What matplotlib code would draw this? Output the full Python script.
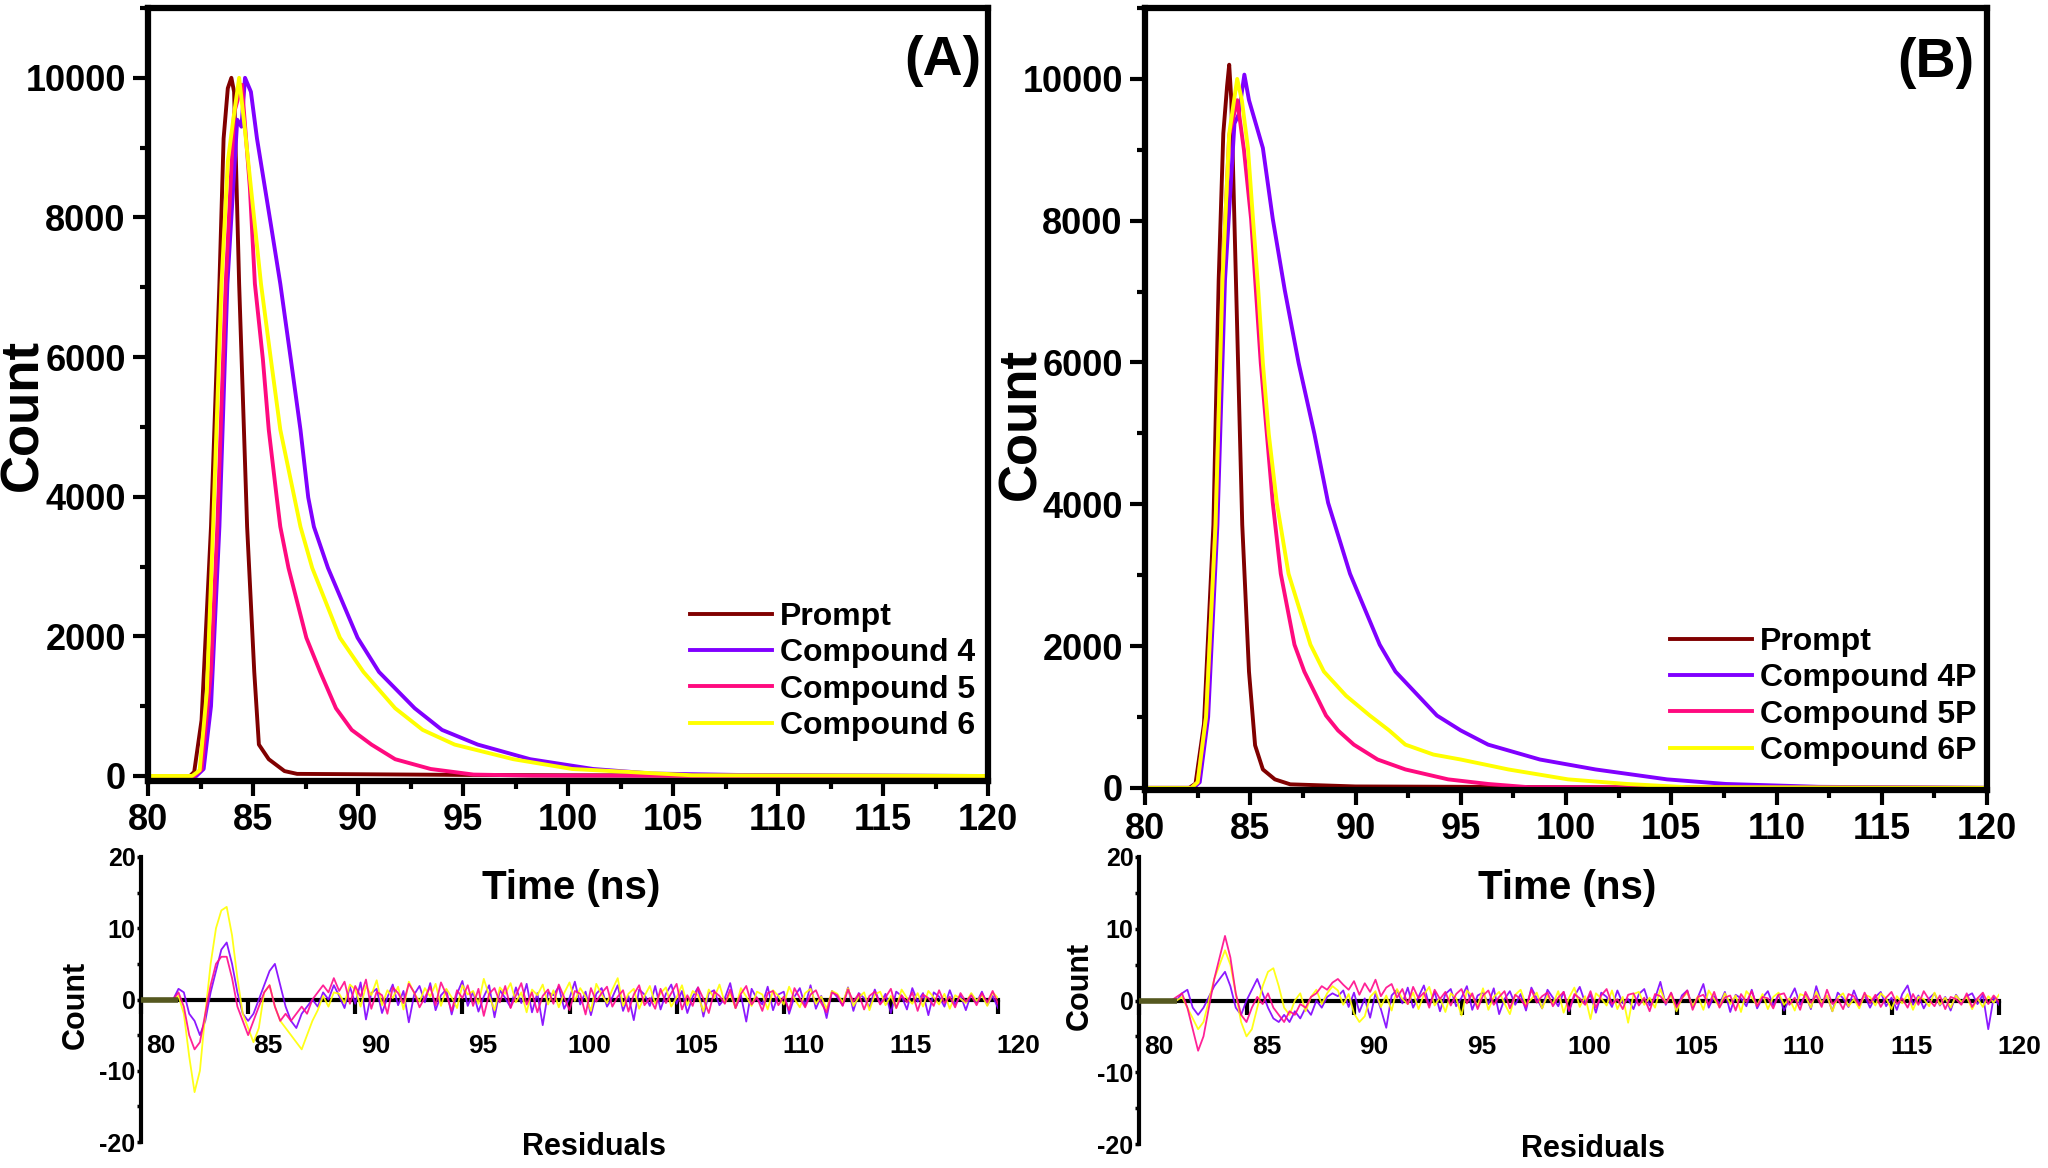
import matplotlib
matplotlib.use("Agg")
import matplotlib.pyplot as plt
import matplotlib.transforms as mtransforms
from matplotlib.ticker import MultipleLocator
import numpy as np

plt.rcParams['font.family'] = ['Liberation Sans', 'DejaVu Sans']
plt.rcParams['font.weight'] = 'bold'
plt.rcParams['axes.unicode_minus'] = False

# ---- decay curves, panel A (time in ns, counts) ----
prompt_a_t = [80, 82.0, 82.2, 82.55, 83.0, 83.4, 83.6, 83.8, 83.97, 84.1, 84.34, 84.72,
              85.06, 85.28, 85.75, 86.5, 87.1, 90, 95, 100, 110, 120]
prompt_a_c = [0, 0, 60, 800, 3570, 7050, 9130, 9850, 10000, 9800, 7050, 3570,
              1490, 450, 240, 70, 30, 25, 15, 10, 5, 0]
c4_a_t = [80, 82.3, 82.65, 83.0, 83.4, 83.78, 84.25, 84.45, 84.62, 84.9, 85.19, 85.85, 86.3,
          86.8, 87.26, 87.63, 87.9, 88.57, 89.98, 91.0, 92.7, 94.0, 95.7, 98.2, 101.2, 104, 108,
          113, 120]
c4_a_c = [0, 0, 100, 1000, 3570, 7050, 9400, 9300, 10000, 9800, 9130, 7900, 7050,
          5970, 4960, 3990, 3570, 2980, 1980, 1490, 970, 660, 450, 240, 100, 35, 15,
          5, 0]
c5_a_t = [80, 82.2, 82.55, 83.0, 83.3, 83.7, 84.1, 84.47, 84.85, 85.09, 85.47, 85.75, 86.13,
          86.3, 86.69, 87.54, 88.2, 88.95, 89.7, 90.64, 91.77, 93.46, 95.5, 98.3, 120]
c5_a_c = [0, 0, 100, 1500, 3570, 7050, 9500, 9900, 8430, 7050, 5970, 4960, 3990,
          3570, 2980, 1980, 1490, 970, 660, 450, 240, 100, 20, 5, 0]
c6_a_t = [80, 82.1, 82.46, 82.8, 83.1, 83.5, 83.8, 84.06, 84.34, 84.6, 84.9, 85.38, 85.85,
          86.3, 86.97, 87.26, 87.82, 89.14, 90.26, 91.77, 93.08, 94.6, 97.4, 100.2, 105.9, 120]
c6_a_c = [0, 0, 80, 1200, 3570, 7050, 8800, 9400, 10000, 9300, 8430, 7050, 5970,
          4960, 3990, 3570, 2980, 1980, 1490, 970, 660, 450, 240, 100, 10, 0]

# ---- decay curves, panel B ----
prompt_b_t = [80, 82.1, 82.4, 82.8, 83.25, 83.5, 83.72, 83.9, 84.0, 84.1, 84.32, 84.62,
              84.94, 85.23, 85.6, 86.17, 86.9, 90, 100, 120]
prompt_b_c = [0, 0, 60, 900, 3710, 7160, 9230, 9900, 10200, 9700, 7160, 3710,
              1640, 600, 260, 120, 50, 20, 10, 0]
c4_b_t = [80, 82.3, 82.6, 83.0, 83.44, 83.8, 84.25, 84.45, 84.72, 84.94, 85.6, 86.07, 86.64,
          87.3, 88.05, 88.7, 89.74, 91.15, 91.9, 93.87, 95.0, 96.3, 98.76, 101.4, 104.8, 107.6,
          112, 120]
c4_b_c = [0, 0, 80, 1000, 3710, 7160, 9370, 9500, 10060, 9700, 9025, 8025, 7020,
          5990, 4990, 4020, 3020, 2020, 1640, 1020, 810, 610, 400, 260, 120, 55,
          15, 0]
c5_b_t = [80, 82.2, 82.5, 82.9, 83.35, 83.68, 84.0, 84.38, 84.7, 85.04, 85.5, 86.07, 86.45,
          87.1, 87.57, 88.6, 89.17, 89.92, 91.05, 92.37, 94.4, 96.3, 98.2, 120]
c5_b_c = [0, 0, 80, 1000, 3710, 7160, 9200, 9700, 9000, 8025, 5990, 4020, 3020,
          2020, 1640, 1020, 810, 610, 400, 260, 120, 55, 10, 0]
c6_b_t = [80, 82.2, 82.5, 82.9, 83.35, 83.68, 84.0, 84.38, 84.6, 84.89, 85.13, 85.38, 85.6,
          85.88, 86.26, 86.82, 87.86, 88.5, 89.55, 90.68, 91.6, 92.37, 93.7, 95.0, 97.26,
          100.1, 102.9, 105.7, 120]
c6_b_c = [0, 0, 80, 1000, 3710, 7160, 9230, 10000, 9700, 9025, 8025, 7020, 5990,
          4990, 4020, 3020, 2020, 1640, 1300, 1020, 810, 610, 470, 400, 260,
          120, 55, 10, 0]

labels_a = ['Prompt', 'Compound 4', 'Compound 5', 'Compound 6']
labels_b = ['Prompt', 'Compound 4P', 'Compound 5P', 'Compound 6P']
colors = ['#800000', '#8000FF', '#FF0A7F', '#FFFF00']

# ---- residuals: sampled every 0.25 ns starting at 81.0 ns ----
RES_T0 = 81.0
RES_DT = 0.25
RES_LEAD = 81.75

res_a4 = [0, 0, 0, 1.5, 1, -2, -3, -5, -3, 1, 4, 7, 8, 5, 1, -2, -3, -2, 0, 2, 4, 5, 2, -1,
          -3, -4, -2, -1, 0, -1, 1, 0, 2,
          0.5, -1.2, 1.8, -0.6, 2.4, -2.8, 0.9, 1.5, -1.9, 0.3, 2.1, -0.8, 1.2, -3.2, 0.7, 1.9, -0.4, 2.3, -1.5, 0.6,
          1.4, -2.1, 0.8, 2.6, -0.9, 1.1, -1.7, 0.4, 2.0, -2.5, 1.3, 0.2, -1.1, 1.7, -0.5, 2.2, -1.8, 0.9, -3.6, 1.0,
          0.6, 1.8, -1.3, 0.2, 2.5, -0.7, 1.1, -2.2, 0.8, 1.6, -1.0, 0.3, 2.0, -1.6, 0.5, -2.9, 1.4, 0.7, -0.9, 1.9,
          -1.4, 0.8, 2.1, -0.6, 1.2, -1.9, 0.4, 1.7, -2.4, 0.9, 1.3, -0.8, 0.2, 2.3, -1.2, 0.6, -3.1, 1.5, 0.1, -0.7,
          1.8, -1.5, 0.7, 1.1, -2.0, 0.4, 1.6, -0.9, 2.0, -1.3, 0.5, -2.6, 1.2, 0.3, -0.8, 1.7, -1.6, 0.9, 0.2, -1.1,
          1.4, -0.6, 0.8, -1.9, 1.1, 0.5, -1.4, 1.6, -0.3, 0.9, -2.2, 1.0, 0.4, -1.0, 1.3, -0.7, 0.6, -1.5, 0.8, -0.4,
          1.1, -0.8, 0.5, -1.2]
res_a5 = [0, 0, 0, 1, -1, -5, -7, -6, -2, 2, 5, 6, 6, 3, -1, -3, -5, -3, -1, 1, 2, -1, -3, -2,
          -3, -2, -1, -2, 0, 1, 2, 1, 3,
          1.2, 2.5, -0.6, 1.9, 0.4, 2.8, -1.3, 1.1, 0.6, -2.0, 1.7, 0.9, -0.5, 2.2, 1.0, -1.1, 0.3, 1.8, -0.8, 2.4,
          0.7, -1.6, 1.3, 0.2, 2.0, -0.9, 1.5, -2.3, 0.8, 1.6, -0.4, 1.9, -1.2, 0.6, 2.3, -0.7, 1.0, -1.8, 0.5, 1.4,
          -0.6, 2.1, 0.3, -1.5, 1.2, 0.8, -2.1, 1.6, -0.3, 0.9, 1.8, -1.0, 0.4, 1.3, -1.7, 0.7, 2.0, -0.8, 0.2, -1.3,
          1.5, -0.5, 0.9, 2.2, -1.4, 0.6, -0.9, 1.7, 0.1, -1.9, 1.1, 0.5, -0.6, 1.4, -1.2, 0.8, 1.9, -0.7, 0.3, -1.6,
          0.9, 1.2, -0.8, 0.4, -1.5, 1.6, 0.2, -1.1, 0.7, 1.3, -0.5, -1.8, 1.0, 0.6, -0.9, 1.4, -0.3, 0.8, -1.4, 0.5,
          1.1, -0.7, 0.3, 1.5, -1.2, 0.6, -0.4, 1.0, -1.6, 0.7, 0.2, -0.9, 1.3, -0.5, 0.4, -1.1, 0.9, -0.3, 0.6, -0.8,
          0.9, -0.4, 1.2, -0.6]
res_a6 = [0, 0, 0, 0.5, -2, -8, -13, -10, -2, 5, 10, 12.5, 13, 9, 3, -2, -4, -6, -4, 1, 2, -1,
          -3, -4, -5, -6, -7, -5, -3, -1.5, 0.5, -1, 1,
          0.8, -0.5, 2.1, 1.4, -1.0, 1.9, 0.6, 2.7, -0.8, 1.3, 0.2, 1.8, -1.4, 2.5, 0.9, -0.3, 1.6, 0.4, 2.2, -0.9,
          1.5, 0.3, -1.2, 2.0, 0.7, 1.2, -0.6, 2.9, 0.5, -1.5, 1.7, 0.8, 2.3, -0.4, 1.0, -1.8, 1.4, 0.6, 2.1, -0.7,
          1.3, -1.1, 0.9, 2.4, -0.2, 1.6, 0.4, -1.6, 2.2, 0.7, -0.5, 1.4, 3.0, -0.9, 0.8, 1.5, -1.3, 0.5, 1.9, -0.6,
          0.9, 1.7, -1.0, 0.3, 2.0, -0.8, 1.2, 0.6, -1.7, 1.4, 0.2, 2.1, -0.5, 0.8, -1.2, 1.6, 0.4, -0.9, 1.1, 0.7,
          -1.4, 1.3, 0.5, -0.7, 1.8, 0.1, -1.1, 0.9, 1.5, -0.6, 0.4, -1.3, 1.2, 0.8, -0.4, 1.6, -0.9, 0.3, 1.0, -1.5,
          0.7, 1.1, -0.8, 0.5, -1.2, 1.4, 0.2, -0.6, 0.9, -1.0, 1.2, 0.3, -0.7, 0.8, -1.3, 0.6, 0.1, -0.5, 0.9, -0.2,
          0.6, -0.9, 1.0, 0.2]

res_b4 = [0, 0, 0, 0, 1, 1.5, -1, -2, -1, 0.5, 2, 3, 4, 2, -1, -2, 0, 1.5, 3, 1, -1, -2.5,
          -3, -2, -3, -1.5, -2.5, -1, -2, 0, -1, 0.5, 1,
          0.6, 1.4, -0.9, 1.1, -1.6, 0.3, -2.4, 1.0, -1.2, -3.8, 0.7, 1.5, -0.4, 1.8, -1.0, 0.5, 2.1, -0.7, 1.2, -1.5,
          0.9, 1.6, -0.8, 0.4, 2.0, -1.3, 0.7, 1.1, -0.5, 1.7, -1.9, 0.2, 1.3, -0.6, 0.9, -1.4, 1.8, 0.3, -1.1, 1.5,
          0.4, -0.8, 1.2, -1.5, 0.6, 1.9, -0.3, 0.8, -1.7, 1.1, 0.5, -0.9, 1.4, -0.4, 0.2, -1.2, 0.9, 1.6, -0.7, 0.3,
          2.6, -0.6, 1.0, -1.3, 0.7, 1.4, -0.9, 0.5, 2.3, -1.0, 0.6, -0.5, 1.2, -1.6, 0.8, 0.3, -0.8, 1.5, -1.1, 0.4,
          1.3, -0.7, 0.9, -1.4, 0.2, 1.7, -0.6, 0.8, -1.2, 2.0, -0.4, 0.6, -1.5, 1.1, 0.3, -0.9, 1.4, -0.5, 0.7, -1.0,
          0.5, 1.2, -0.8, 0.4, -1.3, 0.9, 2.1, -0.6, 0.7, -1.1, 0.3, 1.0, -0.7, 0.5, -1.4, 0.8, -0.3, 0.6, 1.0, -0.5,
          0.8, -4.0, 0.4, -0.6]
res_b5 = [0, 0, 0, 0.5, 1, -1, -4, -7, -5, -1, 3, 6, 9, 6, 1, -2, -3, -1, 0.5, -0.5, 1, -1,
          -2, -3, -1.5, -2, -0.5, -1, 0.5, 1, 2, 1.5, 2.5,
          3.0, 2.2, 1.5, 2.7, 0.8, 2.4, 1.2, 2.9, 0.6, 1.8, 2.3, 0.4, 1.6, -0.5, 1.9, 0.3, 1.1, -1.0, 1.5, 0.2,
          1.2, -0.7, 0.9, 1.6, -0.4, 1.0, -1.2, 0.7, 1.4, -0.6, 0.5, 1.3, -1.1, 0.8, 0.2, -0.9, 1.5, -0.3, 0.6, 1.1,
          -0.8, 0.4, 1.2, -1.4, 0.9, 0.3, -0.6, 1.3, -1.0, 0.7, 1.6, -0.5, 0.2, -1.2, 0.8, 1.0, -0.7, 0.4, -1.5, 0.9,
          0.6, -0.4, 1.1, -0.9, 0.3, 1.4, -1.3, 0.5, 0.8, -0.6, 1.2, -1.0, 0.4, 0.7, -1.4, 0.9, -0.2, 1.3, -0.8, 0.5,
          0.3, -1.1, 0.8, 1.0, -0.6, 0.4, -1.3, 1.2, -0.3, 0.7, -0.9, 1.5, -0.5, 0.2, -1.2, 0.9, 0.6, -0.7, 1.1, -0.4,
          0.8, -0.9, 0.4, 1.2, -0.5, 0.3, -1.0, 0.9, -0.6, 1.3, 0.1, -0.8, 0.7, -1.2, 0.5, 0.2, -0.6, 1.0, -0.9, 0.3,
          1.1, -0.5, 0.7, -0.2]
res_b6 = [0, 0, 0, 0, 0.5, -1, -2.5, -4, -3, 0, 3, 5, 7, 5, 1, -3, -5, -4, -1, 2, 4, 4.5,
          2, -1, -2, 0, 1, -1.5, 0.5, 1.5, -0.5, 1, 2,
          1.4, -0.6, 0.9, -1.8, -3.0, -2.2, 0.5, 1.3, -0.9, 0.7, -1.4, 1.6, 0.2, -0.5, 1.1, -1.2, 0.8, 1.9, -0.7, 0.4,
          -1.6, 1.0, 0.3, -2.1, 1.4, 0.6, -0.8, 1.7, -1.3, 0.5, 1.2, -0.4, -1.9, 0.8, 1.5, -0.6, 0.2, 1.1, -1.1, 0.7,
          -0.5, 1.3, -1.7, 0.4, 1.8, -0.9, 0.6, -2.6, 1.0, 0.3, -0.7, 1.4, -1.2, 0.5, -3.1, 0.9, 1.2, -0.6, 0.4, -1.0,
          1.6, -0.4, 0.8, -1.5, 0.3, 1.1, -0.8, 0.6, -1.3, 1.4, 0.2, -0.9, 1.0, -0.5, 0.7, -1.6, 1.3, 0.4, -0.7, 0.9,
          -1.2, 0.5, 1.1, -0.6, 0.3, -1.4, 0.9, 0.6, -1.0, 1.2, -0.3, 0.7, -1.5, 0.4, 1.0, -0.8, 0.2, -1.1, 0.8, 0.5,
          -0.7, 1.0, 0.3, -1.2, 0.6, -0.4, 0.9, -1.3, 0.5, 0.2, -0.8, 1.1, -0.6, 0.4, -1.0, 0.7, -0.2, 0.5, -1.2, 0.3,
          -0.9, 0.6, -0.3, 0.8]

fig = plt.figure(figsize=(20.48, 11.68), dpi=100)
W, H = 2048.0, 1168.0


def fx(px):
    return px / W


def fy(py):
    return 1 - py / H


def main_panel(box, ylim, curves, labels, tag, tag_xy, leg_xy):
    l, t, r, b = box
    ax = fig.add_axes([fx(l), fy(b), fx(r - l), (b - t) / H])
    for (xs, ys), lab, col in zip(curves, labels, colors):
        ax.plot(xs, ys, color=col, lw=2.8, label=lab)
    ax.set_xlim(80, 120)
    ax.set_ylim(*ylim)
    ax.xaxis.set_major_locator(MultipleLocator(5))
    ax.xaxis.set_minor_locator(MultipleLocator(2.5))
    ax.yaxis.set_major_locator(MultipleLocator(2000))
    ax.yaxis.set_minor_locator(MultipleLocator(1000))
    ax.tick_params(which='both', direction='out', top=False, right=False, width=3,
                   labelsize=26, pad=5)
    ax.tick_params(which='major', length=11)
    ax.tick_params(which='minor', length=6)
    for s in ax.spines.values():
        s.set_linewidth(4.5)
    ax.legend(loc='lower right', bbox_to_anchor=leg_xy, bbox_transform=fig.transFigure,
              frameon=False, fontsize=23, handlelength=2.55, handletextpad=0.25,
              labelspacing=0.2, borderpad=0, borderaxespad=0)
    fig.text(tag_xy[0], tag_xy[1], tag, fontsize=40, fontweight='bold',
             ha='center', va='center')
    return ax


def resid_panel(box, series):
    l, t, r, b = box
    ax = fig.add_axes([fx(l), fy(b), fx(r - l), (b - t) / H])
    ax.patch.set_alpha(0)
    ax.hlines(0, 80, RES_LEAD, color='#55581f', lw=4, zorder=4)
    for vals, col in series:
        ts = RES_T0 + RES_DT * np.arange(len(vals))
        ax.plot(ts, vals, color=col, lw=1.3, alpha=0.9, zorder=3)
    ax.set_xlim(80, 120)
    ax.set_ylim(-20, 20)
    ax.spines['bottom'].set_position(('data', 0))
    ax.spines['top'].set_visible(False)
    ax.spines['right'].set_visible(False)
    ax.spines['left'].set_linewidth(3)
    ax.spines['bottom'].set_linewidth(3)
    ax.xaxis.set_major_locator(MultipleLocator(5))
    ax.yaxis.set_major_locator(MultipleLocator(10))
    ax.yaxis.set_minor_locator(MultipleLocator(5))
    ax.tick_params(axis='x', direction='out', length=10, width=3, labelsize=19, pad=15)
    ax.tick_params(axis='y', which='both', direction='out', length=3, width=2.5,
                   labelsize=18, pad=1)
    offset = mtransforms.ScaledTranslation(0.2, 0, fig.dpi_scale_trans)
    for lab in ax.get_xticklabels():
        lab.set_transform(lab.get_transform() + offset)
    return ax


main_panel((148, 8, 988, 781), (-72, 11000),
           [(prompt_a_t, prompt_a_c), (c4_a_t, c4_a_c), (c5_a_t, c5_a_c), (c6_a_t, c6_a_c)],
           labels_a, '(A)', (fx(943), fy(61)), (fx(975), fy(741)))
main_panel((1145, 8, 1987, 790), (-30, 11000),
           [(prompt_b_t, prompt_b_c), (c4_b_t, c4_b_c), (c5_b_t, c5_b_c), (c6_b_t, c6_b_c)],
           labels_b, '(B)', (fx(1936), fy(63)), (fx(1976), fy(766)))

res_colors = ['#8000FF', '#FFFF00', '#FF0A8C']
resid_panel((141, 857, 998, 1142), list(zip([res_a4, res_a6, res_a5], res_colors)))
resid_panel((1139, 857, 1999, 1144), list(zip([res_b4, res_b6, res_b5], res_colors)))

# axis titles
fig.text(fx(23), fy(415), 'Count', fontsize=38, rotation=90, ha='center', va='center')
fig.text(fx(1021), fy(424), 'Count', fontsize=38, rotation=90, ha='center', va='center')
fig.text(fx(571), fy(888), 'Time (ns)', fontsize=29, ha='center', va='center')
fig.text(fx(1567), fy(888), 'Time (ns)', fontsize=29, ha='center', va='center')
fig.text(fx(76), fy(1005), 'Count', fontsize=22, rotation=90, ha='center', va='center')
fig.text(fx(1080), fy(986), 'Count', fontsize=22, rotation=90, ha='center', va='center')
fig.text(fx(594), fy(1147), 'Residuals', fontsize=22, ha='center', va='center')
fig.text(fx(1593), fy(1149), 'Residuals', fontsize=22, ha='center', va='center')

fig.savefig('out.png', dpi=100, facecolor='white')
